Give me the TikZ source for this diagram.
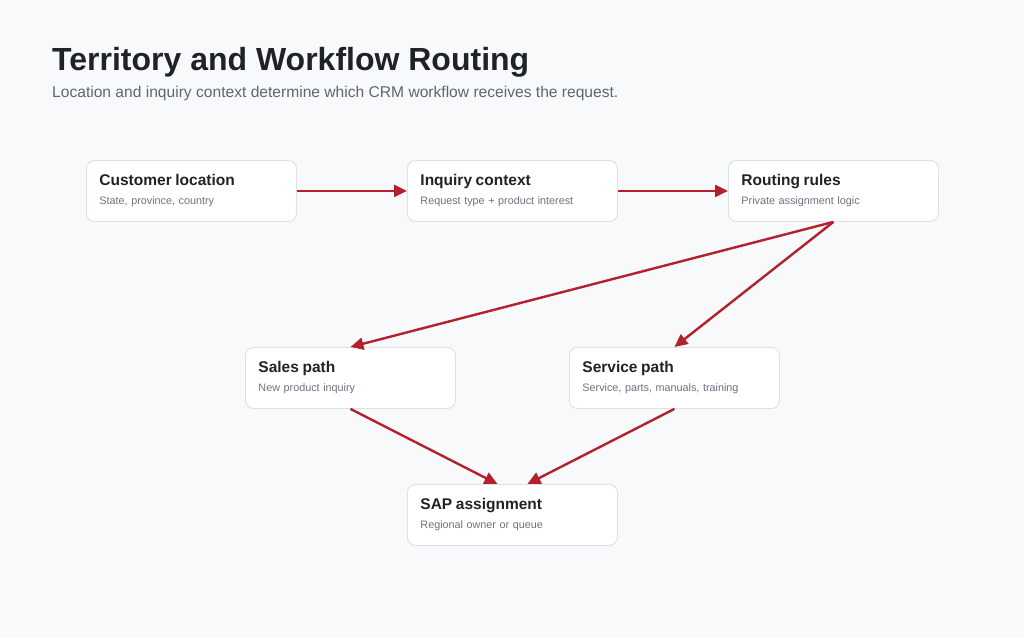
\documentclass[tikz,border=0pt]{standalone}
\usepackage{fontspec}
\setmainfont{Liberation Sans}
\usetikzlibrary{arrows.meta}
\definecolor{bg}{HTML}{F8F9FB}
\definecolor{boxline}{HTML}{DDE0E6}
\definecolor{titlecol}{HTML}{1F2328}
\definecolor{subcol}{HTML}{5F6670}
\definecolor{smallcol}{HTML}{6B7280}
\definecolor{arrowcol}{HTML}{B3202E}
\tikzset{
  x=1pt,y=-1pt,
  card/.style={draw=boxline, line width=0.9pt, fill=white, rounded corners=8pt,
    minimum width=210pt, minimum height=61pt, text width=184pt, inner xsep=13pt,
    inner ysep=0pt, align=left, anchor=north west, font=\fontsize{10.8}{19}\selectfont},
  flow/.style={draw=arrowcol, line width=2.4pt, -{Triangle[length=13pt,width=12pt]}}
}
\newcommand{\cardtext}[2]{{\bfseries\fontsize{15.5}{19}\selectfont\color{titlecol}#1}\\{\color{smallcol}#2}}
\begin{document}
\begin{tikzpicture}
\fill[bg] (0,0) rectangle (1024,637);
\useasboundingbox (0,0) rectangle (1024,637);
\node[anchor=base west, inner sep=0pt, font=\bfseries\fontsize{32}{38}\selectfont, text=titlecol] (title) at (52,70) {Territory and Workflow Routing};
\node[anchor=base west, inner sep=0pt, font=\fontsize{15.6}{19}\selectfont, text=subcol] (subtitle) at (52,97) {Location and inquiry context determine which CRM workflow receives the request.};

\node[card] (cl) at (86,160) {\cardtext{Customer location}{State, province, country}};
\node[card] (ic) at (407,160) {\cardtext{Inquiry context}{Request type + product interest}};
\node[card] (rr) at (728,160) {\cardtext{Routing rules}{Private assignment logic}};
\node[card] (sp) at (245,347) {\cardtext{Sales path}{New product inquiry}};
\node[card] (sv) at (569,347) {\cardtext{Service path}{Service, parts, manuals, training}};
\node[card] (sap) at (407,484) {\cardtext{SAP assignment}{Regional owner or queue}};

\draw[flow] (cl.east) -- (ic.west);
\draw[flow] (ic.east) -- (rr.west);
\draw[flow] (rr.south) -- (sp.north);
\draw[flow] (rr.south) -- (sv.north);
\draw[flow] (sp.south) -- ([xshift=-15pt]sap.north);
\draw[flow] (sv.south) -- ([xshift=15pt]sap.north);
\end{tikzpicture}
\end{document}
